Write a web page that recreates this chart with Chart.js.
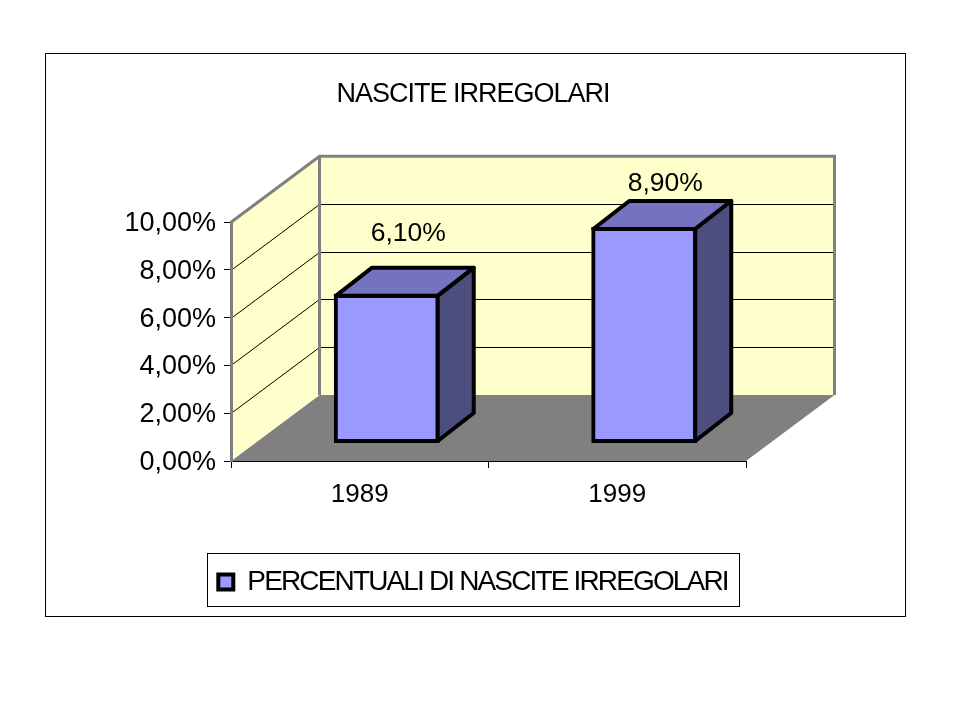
<!DOCTYPE html>
<html>
<head>
<meta charset="utf-8">
<title>Nascite irregolari</title>
<script src="https://cdn.jsdelivr.net/npm/chart.js@4"></script>
<style>
  html, body { margin: 0; padding: 0; background: #fff; }
  canvas { display: block; }
</style>
</head>
<body>
<canvas id="nascite" width="960" height="720"></canvas>
<script>
const years = ['1989', '1999'];
const percentuali = [6.1, 8.9];
const yTicks = [0, 2, 4, 6, 8, 10];
const seriesName = 'PERCENTUALI DI NASCITE IRREGOLARI';
const chartTitle = 'NASCITE IRREGOLARI';

// fake 3d: floor depth, bar depth, and how far bars sit from the front edge
const depth = { x: 88.5, y: -66 };
const barDepth = { x: 36, y: -28 };
const barShift = { x: 27, y: -19.5 };
const labelShift = [{ x: -4.5, y: 62.5 }, { x: -5, y: 45.5 }];

const FONT = '"Liberation Sans", Arial, sans-serif';
// title and legend are squeezed in the original
const TITLE_TRACK = '-1px';
const LEGEND_TRACK = '-1.85px';
const fmt = v => v.toFixed(2).replace('.', ',') + '%';

function poly(ctx, pts, fill, stroke, lw) {
  ctx.beginPath();
  pts.forEach((p, i) => i ? ctx.lineTo(p[0], p[1]) : ctx.moveTo(p[0], p[1]));
  ctx.closePath();
  if (fill) { ctx.fillStyle = fill; ctx.fill(); }
  if (stroke) { ctx.strokeStyle = stroke; ctx.lineWidth = lw; ctx.stroke(); }
}

function tighten(box, ctx, track) {
  if (box._tight) return;
  const draw = box.draw;
  box.draw = function () {
    ctx.letterSpacing = track;
    draw.apply(this, arguments);
    ctx.letterSpacing = '0px';
  };
  box._tight = true;
}

const walls = {
  id: 'walls',
  beforeLayout(chart) {
    // the legend measures its text during layout
    chart.ctx.letterSpacing = LEGEND_TRACK;
  },
  afterLayout(chart) {
    chart.ctx.letterSpacing = '0px';
  },
  beforeDraw(chart) {
    const ctx = chart.ctx, a = chart.chartArea, y = chart.scales.y;
    const bx = a.left + depth.x, by = depth.y;
    tighten(chart.titleBlock, ctx, TITLE_TRACK);
    tighten(chart.legend, ctx, LEGEND_TRACK);
    ctx.save();
    ctx.fillStyle = '#fff';
    ctx.fillRect(0, 0, chart.width, chart.height);
    ctx.strokeStyle = '#000';
    ctx.lineWidth = 1;
    ctx.strokeRect(45.5, 53.5, 860, 563);

    // floor
    poly(ctx, [[a.left, a.bottom], [a.right, a.bottom], [a.right + depth.x, a.bottom + by], [bx, a.bottom + by]], '#808080');
    // side and back wall
    poly(ctx, [[a.left, a.top], [bx, a.top + by], [bx, a.bottom + by], [a.left, a.bottom]], '#ffffcc');
    poly(ctx, [[bx, a.top + by], [a.right + depth.x, a.top + by], [a.right + depth.x, a.bottom + by], [bx, a.bottom + by]], '#ffffcc');

    // grid lines, round the corner from side wall to back wall
    ctx.strokeStyle = '#000';
    ctx.lineWidth = 1;
    yTicks.slice(1, -1).forEach(t => {
      const py = Math.round(y.getPixelForValue(t)) + 0.5;
      ctx.beginPath();
      ctx.moveTo(a.left, py);
      ctx.lineTo(bx, py + by);
      ctx.lineTo(a.right + depth.x, py + by);
      ctx.stroke();
    });

    // grey wall edges
    ctx.strokeStyle = '#808080';
    ctx.lineWidth = 3;
    ctx.beginPath();
    ctx.moveTo(a.left, a.top);
    ctx.lineTo(bx, a.top + by);
    ctx.lineTo(a.right + depth.x, a.top + by);
    ctx.lineTo(a.right + depth.x, a.bottom + by);
    ctx.moveTo(bx, a.top + by);
    ctx.lineTo(bx, a.bottom + by);
    ctx.stroke();
    ctx.restore();
  },
  beforeDatasetsDraw(chart) {
    chart.ctx.save();
    chart.ctx.translate(barShift.x, barShift.y);
  },
  afterDatasetsDraw(chart) {
    const ctx = chart.ctx;
    ctx.lineJoin = 'round';
    chart.getDatasetMeta(0).data.forEach(el => {
      // bars are inflated by half the border, so the outline sits on the value
      const l = el.x - el.width / 2, r = el.x + el.width / 2;
      const t = el.y, b = el.base;
      poly(ctx, [[l, t], [r, t], [r + barDepth.x, t + barDepth.y], [l + barDepth.x, t + barDepth.y]], '#7373bf', '#000', 4);
      poly(ctx, [[r, t], [r + barDepth.x, t + barDepth.y], [r + barDepth.x, b + barDepth.y], [r, b]], '#4d4d80', '#000', 4);
    });
    ctx.restore();

    // value labels
    ctx.save();
    ctx.font = '26.5px ' + FONT;
    ctx.fillStyle = '#000';
    ctx.textAlign = 'center';
    ctx.textBaseline = 'middle';
    chart.getDatasetMeta(0).data.forEach((el, i) => {
      const cx = el.x + barShift.x + barDepth.x / 2 + labelShift[i].x + 8;
      const cy = el.y + barShift.y - labelShift[i].y;
      ctx.fillText(fmt(percentuali[i]), cx, cy);
    });
    ctx.restore();
  },
  afterDraw(chart) {
    const ctx = chart.ctx, lg = chart.legend;
    ctx.save();
    ctx.strokeStyle = '#000';
    ctx.lineWidth = 1;
    ctx.strokeRect(207.5, lg.top - 0.5, 532, lg.height + 1);
    ctx.restore();
  }
};

new Chart(document.getElementById('nascite'), {
  type: 'bar',
  data: {
    labels: years,
    datasets: [{
      label: seriesName,
      data: percentuali,
      backgroundColor: '#9999ff',
      borderColor: '#000',
      borderWidth: 4,
      borderSkipped: false,
      inflateAmount: 2,
      categoryPercentage: 1,
      barPercentage: 0.396,
      clip: false
    }]
  },
  plugins: [walls],
  options: {
    responsive: false,
    animation: false,
    layout: { padding: { left: 0, right: 14, top: 0, bottom: 114 } },
    scales: {
      x: {
        grid: { drawOnChartArea: false, tickLength: 7, color: '#000', tickColor: '#000' },
        border: { color: '#000', width: 1 },
        ticks: { color: '#000', font: { family: FONT, size: 26 }, padding: 11, maxRotation: 0 },
        afterFit(s) { s.height = 93; }
      },
      y: {
        min: 0,
        max: 10,
        grid: { drawOnChartArea: false, tickLength: 7, color: '#000', tickColor: '#000' },
        border: { color: '#808080', width: 3 },
        afterBuildTicks(s) { s.ticks = yTicks.map(v => ({ value: v })); },
        ticks: { color: '#000', font: { family: FONT, size: 27 }, padding: 8, labelOffset: 1.5, callback: fmt },
        afterFit(s) { s.width = 231; }
      },
      // empty axis, keeps room on the right for the depth of the floor
      depthRoom: {
        position: 'right',
        min: 0,
        max: 10,
        grid: { display: false, drawTicks: false },
        border: { display: false },
        ticks: { display: false },
        afterFit(s) { s.width = 200; }
      }
    },
    plugins: {
      title: {
        display: true,
        text: chartTitle,
        color: '#000',
        font: { family: FONT, size: 27, weight: 'normal', lineHeight: 1.2 },
        padding: { top: 78.8, bottom: 111 }
      },
      legend: {
        position: 'bottom',
        labels: {
          color: '#000',
          font: { family: FONT, size: 28 },
          boxWidth: 15,
          boxHeight: 15,
          padding: 14
        }
      },
      tooltip: { enabled: false }
    }
  }
});
</script>
</body>
</html>
